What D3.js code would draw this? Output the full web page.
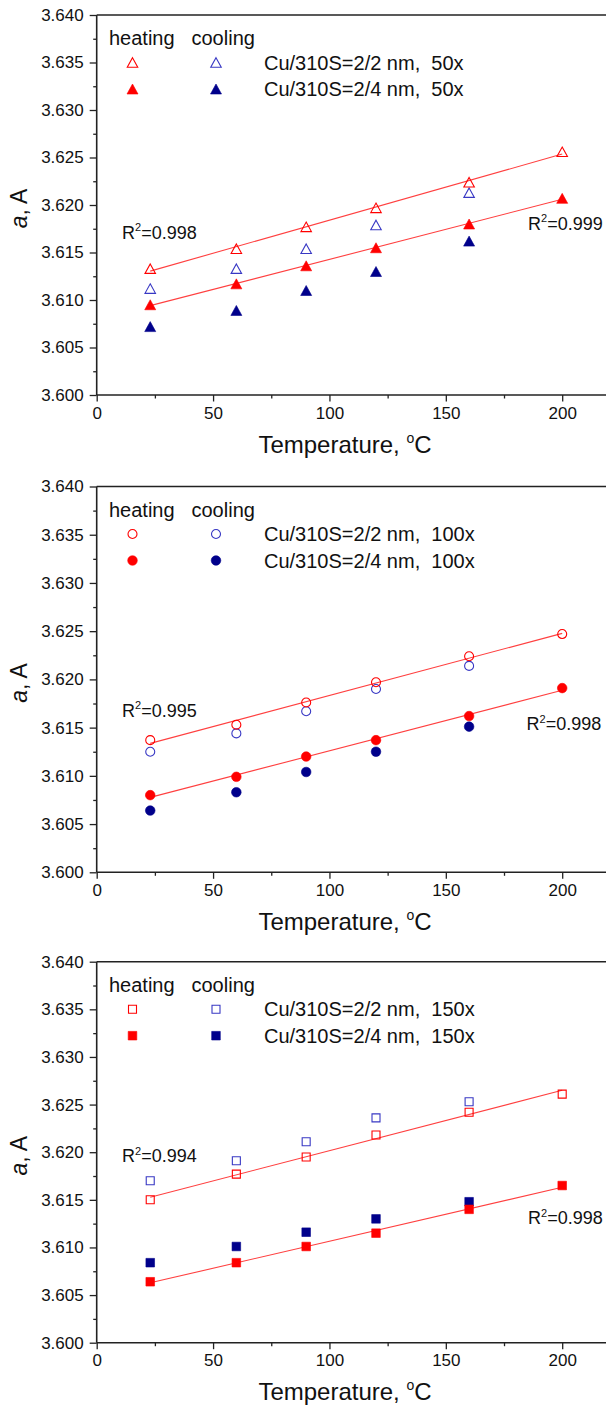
<!DOCTYPE html>
<html><head><meta charset="utf-8">
<script src="https://cdn.jsdelivr.net/npm/d3@7"></script>
<style>
html,body{margin:0;padding:0;background:#fff;}
svg{display:block;}
text{font-family:"Liberation Sans",Arial,sans-serif;fill:#111;}
</style></head>
<body>
<svg id="chart" width="606" height="1406"></svg>
<script>
// ---------- data ----------
const tempsHeat = [23, 60, 90, 120, 160, 200];
const tempsCool = [23, 60, 90, 120, 160];
const xTicks = [0, 50, 100, 150, 200];
const yTicks = [3.600, 3.605, 3.610, 3.615, 3.620, 3.625, 3.630, 3.635, 3.640];

// 50x
const heat22_50 = [3.6133, 3.6154, 3.6177, 3.6197, 3.6224, 3.6256];
const cool22_50 = [3.6112, 3.6133, 3.6154, 3.6179, 3.6213];
const heat24_50 = [3.6095, 3.6117, 3.6136, 3.6155, 3.6180, 3.6207];
const cool24_50 = [3.6072, 3.6089, 3.6110, 3.6130, 3.6162];
// 100x
const heat22_100 = [3.6137, 3.6153, 3.6176, 3.6197, 3.6224, 3.6247];
const cool22_100 = [3.6125, 3.6144, 3.6167, 3.6190, 3.6214];
const heat24_100 = [3.6080, 3.6099, 3.6120, 3.6137, 3.6162, 3.6191];
const cool24_100 = [3.6064, 3.6083, 3.6104, 3.6125, 3.6151];
// 150x
const heat22_150 = [3.6150, 3.6177, 3.6195, 3.6218, 3.6242, 3.6261];
const cool22_150 = [3.6170, 3.6191, 3.6211, 3.6236, 3.6253];
const heat24_150 = [3.6064, 3.6084, 3.6101, 3.6115, 3.6140, 3.6165];
const cool24_150 = [3.6084, 3.6101, 3.6116, 3.6130, 3.6148];

const cycles = ["50x", "100x", "150x"];
const r2Upper = ["0.998", "0.995", "0.994"];
const r2Lower = ["0.999", "0.998", "0.998"];
const legendNames = ["Cu/310S=2/2 nm,  ", "Cu/310S=2/4 nm,  "];

// ---------- layout ----------
const X0 = 96.7, XPX = 2.3275;
const panels = [
  {top: 15,    bottom: 395,   shape: "triangle", h22: heat22_50,  c22: cool22_50,  h24: heat24_50,  c24: cool24_50,
   r2a: [122, 238.5], r2b: [528, 229.5]},
  {top: 486.5, bottom: 872.3, shape: "circle",   h22: heat22_100, c22: cool22_100, h24: heat24_100, c24: cool24_100,
   r2a: [122, 716.5], r2b: [526.5, 730]},
  {top: 961.7, bottom: 1342.7, shape: "square",  h22: heat22_150, c22: cool22_150, h24: heat24_150, c24: cool24_150,
   r2a: [122, 1162], r2b: [528, 1224]}
];
const RED = "#ff0000", RED_LINE = "#ff4040", NAVY = "#00008b", BLUE_OPEN = "#3838c4";

const svg = d3.select("#chart");

function symbolPath(shape, filled) {
  if (shape === "triangle") {
    const w = filled ? 11 : 10.5, h = filled ? 10 : 9.5;
    return `M0,${-h/2}L${w/2},${h/2}L${-w/2},${h/2}Z`;
  }
  if (shape === "square") {
    const s = filled ? 8.6 : 8;
    return `M${-s/2},${-s/2}h${s}v${s}h${-s}Z`;
  }
  const r = filled ? 4.8 : 4.5;
  return `M${r},0A${r},${r} 0 1,1 ${-r},0A${r},${r} 0 1,1 ${r},0Z`;
}

function linfit(xs, ys) {
  const mx = d3.mean(xs), my = d3.mean(ys);
  let sxy = 0, sxx = 0;
  xs.forEach((x, i) => { sxy += (x - mx) * (ys[i] - my); sxx += (x - mx) * (x - mx); });
  const b = sxy / sxx;
  return {a: my - b * mx, b};
}

panels.forEach((p, pi) => {
  const x = d3.scaleLinear().domain([0, 220]).range([X0, X0 + 220 * XPX]);
  const y = d3.scaleLinear().domain([3.600, 3.640]).range([p.bottom, p.top]);
  const g = svg.append("g");

  // frame top line
  g.append("line").attr("x1", X0).attr("x2", 606).attr("y1", p.top).attr("y2", p.top)
    .attr("stroke", "#222").attr("stroke-width", 1.6);

  // x axis
  const xAx = g.append("g").attr("transform", `translate(0,${p.bottom})`)
    .call(d3.axisBottom(x).tickValues(xTicks).tickSize(6.5).tickPadding(5).tickFormat(d3.format("d")));
  g.append("g").attr("transform", `translate(0,${p.bottom})`)
    .call(d3.axisBottom(x).tickValues(d3.range(25, 220, 50)).tickSize(3.5).tickFormat(""))
    .call(s => s.select(".domain").remove());
  // y axis
  const yAx = g.append("g").attr("transform", `translate(${X0},0)`)
    .call(d3.axisLeft(y).tickValues(yTicks).tickSize(7).tickPadding(6).tickFormat(d3.format(".3f")));
  g.append("g").attr("transform", `translate(${X0},0)`)
    .call(d3.axisLeft(y).tickValues(d3.range(3.6025, 3.640, 0.005)).tickSize(3.5).tickFormat(""))
    .call(s => s.select(".domain").remove());

  g.selectAll(".domain").attr("stroke", "#222").attr("stroke-width", 1.6);
  g.selectAll(".tick line").attr("stroke", "#222").attr("stroke-width", 1.3);
  g.selectAll(".tick text").attr("font-size", 17).attr("fill", "#111")
    .attr("font-family", '"Liberation Sans", Arial, sans-serif');
  xAx.selectAll(".domain").attr("d", `M${X0},0H606`);
  yAx.selectAll(".domain").attr("d", `M0,${p.bottom}V${p.top}`);

  // axis titles
  const xt = g.append("text").attr("x", 345).attr("y", p.bottom + 57.5)
    .attr("text-anchor", "middle").attr("font-size", 24);
  xt.append("tspan").text("Temperature, ");
  xt.append("tspan").text("o").attr("font-size", 14).attr("dy", -10);
  xt.append("tspan").text("C").attr("dy", 10);

  const ymid = (p.top + p.bottom) / 2 + 3.5;
  const yt = g.append("text").attr("transform", `translate(27,${ymid}) rotate(-90)`)
    .attr("text-anchor", "middle").attr("font-size", 23)
    .attr("font-family", '"Liberation Serif", "Times New Roman", serif');
  yt.append("tspan").text("a").attr("font-style", "italic");
  yt.append("tspan").text(", A");

  // fit lines
  [[tempsHeat, p.h22], [tempsHeat, p.h24]].forEach(([xs, ys]) => {
    const f = linfit(xs, ys);
    const x1 = d3.min(xs), x2 = d3.max(xs);
    g.append("line").attr("x1", x(x1)).attr("y1", y(f.a + f.b * x1))
      .attr("x2", x(x2)).attr("y2", y(f.a + f.b * x2))
      .attr("stroke", RED_LINE).attr("stroke-width", 1.1);
  });

  // points
  const series = [
    {xs: tempsCool, ys: p.c22, filled: false, color: BLUE_OPEN},
    {xs: tempsCool, ys: p.c24, filled: true,  color: NAVY},
    {xs: tempsHeat, ys: p.h22, filled: false, color: RED},
    {xs: tempsHeat, ys: p.h24, filled: true,  color: RED}
  ];
  series.forEach(s => {
    g.append("g").selectAll("path").data(s.ys).join("path")
      .attr("d", symbolPath(p.shape, s.filled))
      .attr("transform", (d, i) => `translate(${x(s.xs[i])},${y(d)})`)
      .attr("fill", s.filled ? s.color : "none")
      .attr("stroke", s.color).attr("stroke-width", s.filled ? 0.6 : 1.1);
  });

  // legend
  const lt = p.top;
  g.append("text").attr("x", 109).attr("y", lt + 30).attr("font-size", 20).text("heating");
  g.append("text").attr("x", 191.5).attr("y", lt + 30).attr("font-size", 20).text("cooling");
  const rows = [
    {yy: lt + 47.5, filled: false, hc: RED, cc: BLUE_OPEN, label: legendNames[0] + cycles[pi]},
    {yy: lt + 74,   filled: true,  hc: RED, cc: NAVY,      label: legendNames[1] + cycles[pi]}
  ];
  rows.forEach(r => {
    [[132.5, r.hc], [216, r.cc]].forEach(([sx, col]) => {
      g.append("path").attr("d", symbolPath(p.shape, r.filled))
        .attr("transform", `translate(${sx},${r.yy})`)
        .attr("fill", r.filled ? col : "none").attr("stroke", col)
        .attr("stroke-width", r.filled ? 0.6 : 1.1);
    });
    g.append("text").attr("x", 264).attr("y", r.yy + 7).attr("font-size", 20)
      .attr("xml:space", "preserve").style("white-space", "pre").text(r.label);
  });

  // R² labels
  [[p.r2a, r2Upper[pi]], [p.r2b, r2Lower[pi]]].forEach(([pos, val]) => {
    const t = g.append("text").attr("x", pos[0]).attr("y", pos[1]).attr("font-size", 18);
    t.append("tspan").text("R");
    t.append("tspan").text("2").attr("font-size", 11).attr("dy", -7.5);
    t.append("tspan").text("=" + val).attr("dy", 7.5);
  });
});
</script>
</body></html>
